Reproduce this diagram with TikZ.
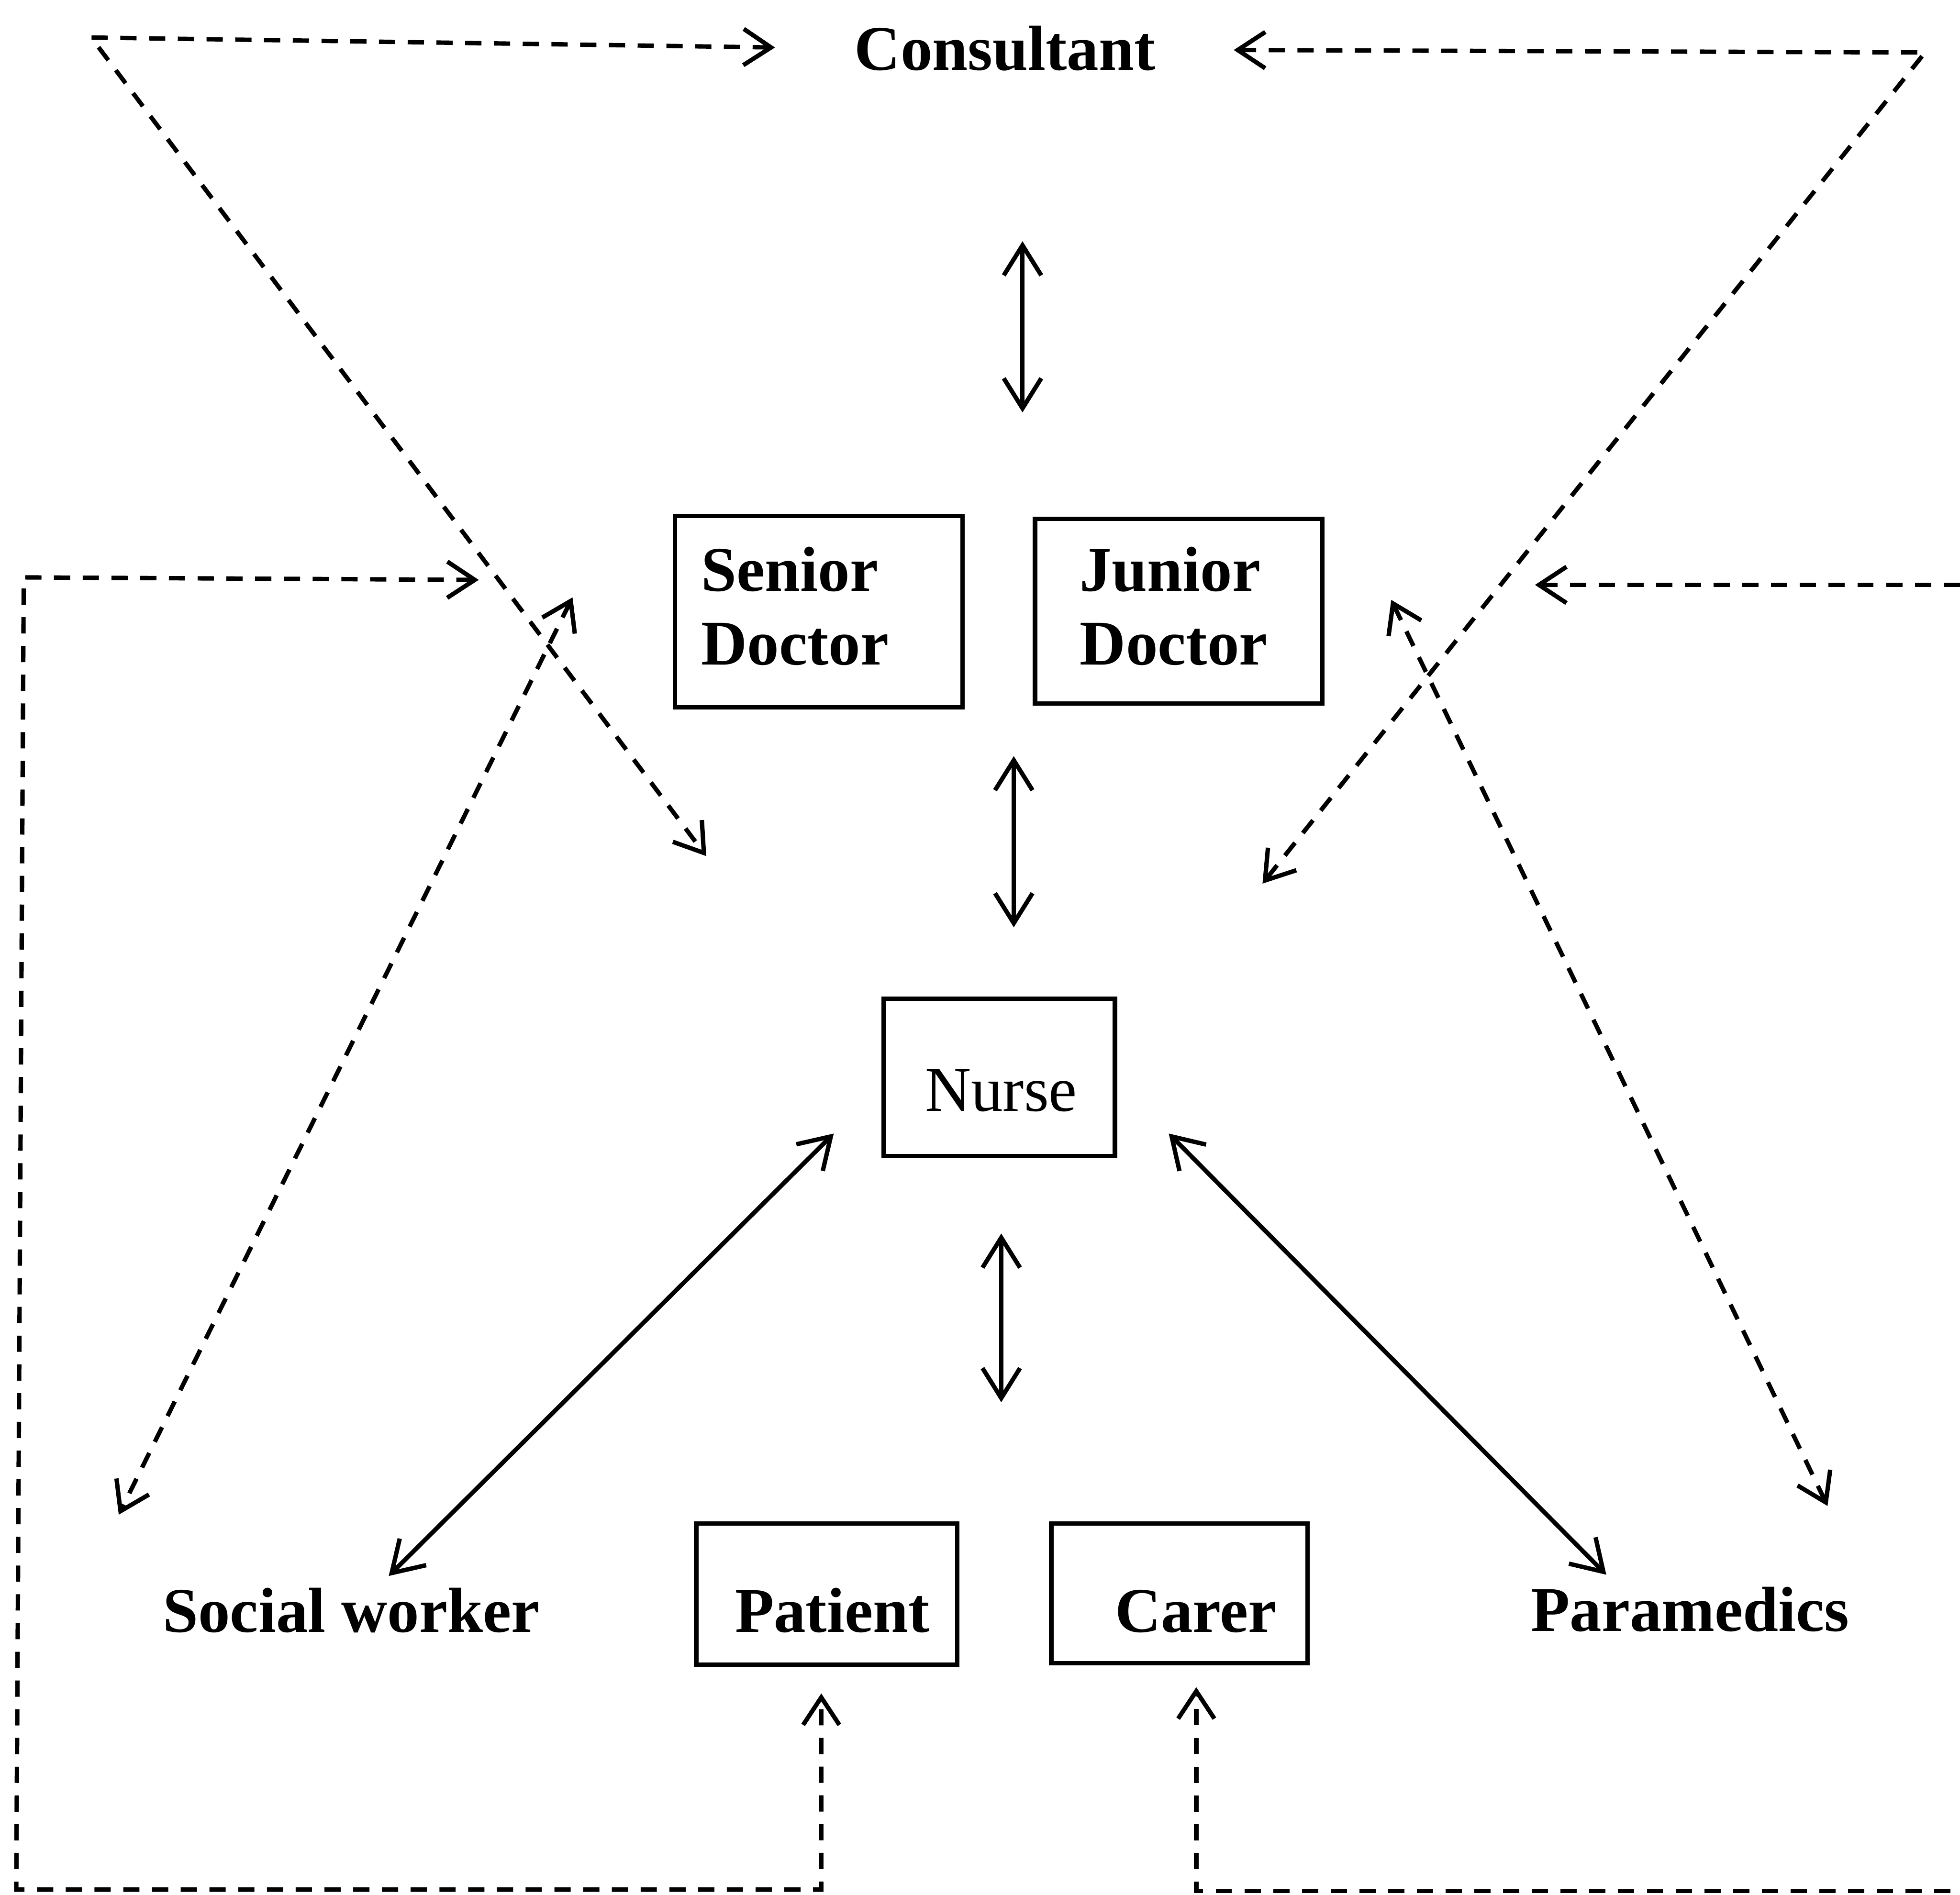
\documentclass[tikz,border=0pt]{standalone}
\usepackage{fontspec}
\setmainfont{Liberation Serif}
\usetikzlibrary{arrows.meta}
\tikzset{
  lw/.style={line width=0.07cm},
  solidarr/.style={lw, {Straight Barb[length=0.48cm,width=0.6cm]}-{Straight Barb[length=0.48cm,width=0.6cm]}},
  dasharr/.style={lw, dash pattern=on 0.26cm off 0.2cm, line join=miter,
    {Straight Barb[length=0.44cm,width=0.58cm]}-{Straight Barb[length=0.44cm,width=0.58cm]}},
  box/.style={draw, lw, anchor=north west, inner sep=0pt, outer sep=0pt, align=left},
  lbl/.style={anchor=base, inner sep=0pt},
}
\begin{document}
\begin{tikzpicture}[x=0.02cm, y=-0.02cm, font=\fontsize{29}{33.5}\selectfont\bfseries]
\useasboundingbox (0,0) rectangle (1568,1516);
\fill[white] (0,0) rectangle (1568,1516);
\clip (0,0) rectangle (1568,1516);

% text labels
\node[lbl] (cons) at (804,56) {Consultant};
\node[lbl] (sw) at (281,1306) {Social worker};
\node[lbl] (pm) at (1352,1305) {Paramedics};

% boxes
\node[box, text width=4.6cm, text height=1.2cm, text depth=1.86cm] (sd) at (540,413)
  {\hspace*{0.42cm}Senior\\\hspace*{0.42cm}Doctor};
\node[box, text width=4.6cm, text height=1.16cm, text depth=1.8cm] (jd) at (828,415)
  {\hspace*{0.72cm}Junior\\\hspace*{0.72cm}Doctor};
\node[box, text width=3.7cm, text height=1.8cm, text depth=0.72cm, font=\fontsize{29}{33.5}\selectfont\mdseries] (nu) at (707,799)
  {\hspace*{0.66cm}Nurse};
\node[box, text width=4.18cm, text height=1.74cm, text depth=0.52cm] (pa) at (557,1219)
  {\hspace*{0.62cm}Patient};
\node[box, text width=4.1cm, text height=1.74cm, text depth=0.5cm] (ca) at (841,1219)
  {\hspace*{1.02cm}Carer};

% coordinates for connectors
\coordinate (c1a) at (818,193);  \coordinate (c1b) at (818,330);
\coordinate (c2a) at (811,605);  \coordinate (c2b) at (811,742);
\coordinate (c3a) at (801,987);  \coordinate (c3b) at (801,1122);
\coordinate (c4a) at (667,907);  \coordinate (c4b) at (311,1261);
\coordinate (c5a) at (935,907);  \coordinate (c5b) at (1285,1260);

\coordinate (tlA) at (620,38);   \coordinate (tlC) at (73,30);   \coordinate (tlB) at (565,685);
\coordinate (trA) at (987,40);   \coordinate (trC) at (1540,42); \coordinate (trB) at (1010,707);
\coordinate (swA) at (458,478);  \coordinate (swB) at (95,1212);
\coordinate (pmA) at (1113,480); \coordinate (pmB) at (1462,1205);
\coordinate (llA) at (383,464);  \coordinate (llC1) at (19,462); \coordinate (llC2) at (13,1512);
\coordinate (llC3) at (657,1512); \coordinate (llB) at (657,1355);
\coordinate (rlA) at (1228,468); \coordinate (rlC1) at (1610,468); \coordinate (rlC2) at (1610,1513);
\coordinate (rlC3) at (957,1513); \coordinate (rlB) at (957,1350);

% solid double arrows
\draw[solidarr] (c1a) -- (c1b);
\draw[solidarr] (c2a) -- (c2b);
\draw[solidarr] (c3a) -- (c3b);
\draw[solidarr] (c4a) -- (c4b);
\draw[solidarr] (c5a) -- (c5b);

% dashed double arrows
\draw[dasharr] (tlA) -- (tlC) -- (tlB);
\draw[dasharr] (trA) -- (trC) -- (trB);
\draw[dasharr] (swA) -- (swB);
\draw[dasharr] (pmA) -- (pmB);
\draw[dasharr] (llA) -- (llC1) -- (llC2) -- (llC3) -- (llB);
\draw[dasharr] (rlA) -- (rlC1) -- (rlC2) -- (rlC3) -- (rlB);
\end{tikzpicture}
\end{document}
